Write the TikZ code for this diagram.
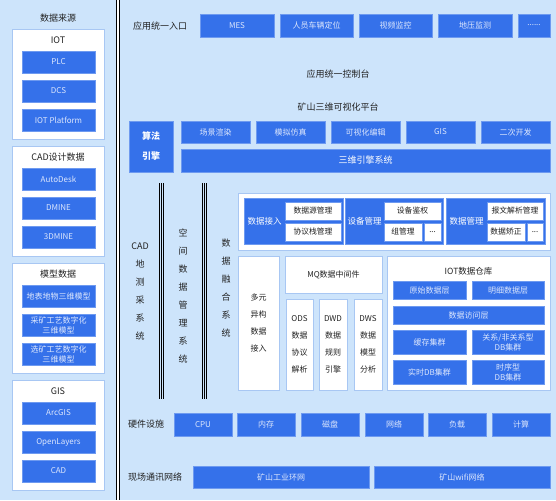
\documentclass[tikz,border=0pt]{standalone}
\usepackage{fontspec}
\setmainfont{Noto Sans CJK SC}
\usepackage{tikz}
\definecolor{bgblue}{HTML}{CDE4FB}
\definecolor{boxblue}{HTML}{3571EA}
\definecolor{boxedge}{HTML}{6E9AF0}
\definecolor{boxtext}{HTML}{DDE7FD}
\definecolor{paneledge}{HTML}{A8C7F3}
\definecolor{labeltext}{HTML}{222222}

% box from corner (x1,y1) to corner (x2,y2), in pixels
\newcommand\blk[7]{\node[#1, minimum width={((#5)-(#3))*1pt}, minimum height={((#6)-(#4))*1pt}] (#2) at ({((#3)+(#5))/2},{((#4)+(#6))/2}) {#7};}

\tikzset{
	bluebox/.style={fill=boxblue, draw=boxedge, line width=0.6pt, inner sep=0pt, outer sep=0pt,
		text=boxtext, align=center, font=\fontsize{8}{10}\selectfont},
	headbox/.style={bluebox, text=white, font=\fontsize{9}{20}\selectfont\bfseries},
	whitebox/.style={fill=white, draw=paneledge, line width=0.8pt, inner sep=0pt, outer sep=0pt,
		text=labeltext, align=center, font=\fontsize{8}{17}\selectfont},
	smallbox/.style={fill=white, draw=boxedge, line width=0.5pt, inner sep=0pt, outer sep=0pt,
		text=labeltext, font=\fontsize{7.8}{9}\selectfont},
	grouptext/.style={text=white, font=\fontsize{8.5}{10}\selectfont},
	label/.style={text=labeltext, font=\fontsize{9}{11}\selectfont},
	vlabel/.style={text=labeltext, align=center, font=\fontsize{9}{18}\selectfont},
	sepline/.style={draw=black, line width=0.8pt}
}

\begin{document}
\begin{tikzpicture}[x=1pt,y=-1pt]
	\fill[bgblue] (0,0) rectangle (556,500);
	\useasboundingbox (0,0) rectangle (556,500);

	% data sources
	\node[label] (src) at (58,18) {数据来源};
	\foreach \yy/\n/\ttl/\ia/\ib/\ic in {29/iot/IOT/PLC/DCS/IOT Platform,
		146/cad/CAD设计数据/AutoDesk/DMINE/3DMINE,
		263/model/模型数据/地表地物三维模型/{采矿工艺数字化\\三维模型}/{选矿工艺数字化\\三维模型},
		380/gis/GIS/ArcGIS/OpenLayers/CAD}{
		\blk{whitebox}{\n}{12}{\yy}{104}{\yy+110}{}
		\node[label] (\n-t) at (58,\yy+11) {\ttl};
		\blk{bluebox}{\n-1}{22}{\yy+22}{95}{\yy+44}{\ia}
		\blk{bluebox}{\n-2}{22}{\yy+51}{95}{\yy+73}{\ib}
		\blk{bluebox}{\n-3}{22}{\yy+80}{95}{\yy+102}{\ic}
	}

	% separators
	\fill[white] (116.5,0) rectangle (119,500);
	\draw[sepline] (116.5,0) -- (116.5,500);
	\draw[sepline] (119,0) -- (119,500);
	\foreach \x in {159.5,161.5,163.5,202.3,204.2,206}
		\draw[sepline] (\x,183) -- (\x,399);

	% application entry
	\node[label] (entry) at (160,26) {应用统一入口};
	\foreach \a/\b/\n/\t in {200/274/mes/MES, 280/353/locate/人员车辆定位, 359/432/video/视频监控,
		438/512/press/地压监测}{
		\blk{bluebox}{\n}{\a}{14}{\b}{37}{\t}
	}
	\blk{bluebox}{more}{518}{14}{550}{37}{......}

	\node[label] (console) at (338,74) {应用统一控制台};
	\node[label] (platform) at (338,107) {矿山三维可视化平台};

	% engine
	\blk{headbox}{algo}{129}{121}{173}{172}{算法\\引擎}
	\foreach \a/\b/\n/\t in {181/250/render/场景渲染, 256/325/sim/模拟仿真, 331/400/edit/可视化编辑,
		406/475/gisf/GIS, 481/550/dev/二次开发}{
		\blk{bluebox}{\n}{\a}{121}{\b}{143}{\t}
	}
	\blk{bluebox}{engine}{181}{149}{550}{172}{\fontsize{9}{11}\selectfont\color{white}三维引擎系统}

	% vertical systems
	\node[vlabel] (cadsys) at (140,291) {CAD\\地\\测\\采\\系\\统};
	\node[vlabel] (spsys) at (183,296.5) {空\\间\\数\\据\\管\\理\\系\\统};
	\node[vlabel] (fusys) at (226,288) {数\\据\\融\\合\\系\\统};

	% access layer
	\blk{whitebox}{access}{238}{193}{550}{250}{}
	\blk{bluebox}{grp1}{244}{198}{343}{244}{}
	\node[grouptext] (grp1-t) at (264.5,221) {数据接入};
	\blk{smallbox}{grp1-a}{285}{202}{341}{220}{数据源管理}
	\blk{smallbox}{grp1-b}{285}{223}{341}{241}{协议栈管理}
	\blk{bluebox}{grp2}{345}{198}{443}{244}{}
	\node[grouptext] (grp2-t) at (364.5,221) {设备管理};
	\blk{smallbox}{grp2-a}{384}{202}{441}{220}{设备鉴权}
	\blk{smallbox}{grp2-b}{384}{223}{422}{241}{组管理}
	\blk{smallbox}{grp2-c}{424}{223}{441}{241}{...}
	\blk{bluebox}{grp3}{446}{198}{545}{244}{}
	\node[grouptext] (grp3-t) at (466.5,221) {数据管理};
	\blk{smallbox}{grp3-a}{487}{202}{543}{220}{报文解析管理}
	\blk{smallbox}{grp3-b}{487}{223}{525}{241}{数据矫正}
	\blk{smallbox}{grp3-c}{527}{223}{543}{241}{...}

	% fusion layer
	\blk{whitebox}{multi}{238}{256}{279}{390}{多元\\异构\\数据\\接入}
	\blk{whitebox}{mq}{285}{256}{382}{293}{MQ数据中间件}
	\blk{whitebox}{ods}{286}{299}{313}{390}{ODS\\数据\\协议\\解析}
	\blk{whitebox}{dwd}{319}{299}{347}{390}{DWD\\数据\\规则\\引擎}
	\blk{whitebox}{dws}{354}{299}{382}{390}{DWS\\数据\\模型\\分析}

	% iot warehouse
	\blk{whitebox}{store}{387}{256}{550}{390}{}
	\node[label, font=\fontsize{8.5}{10}\selectfont] (store-t) at (468.5,271) {IOT数据仓库};
	\blk{bluebox}{raw}{393}{281}{466}{299}{原始数据层}
	\blk{bluebox}{detail}{472}{281}{544}{299}{明细数据层}
	\blk{bluebox}{visit}{393}{306}{544}{324}{数据访问层}
	\blk{bluebox}{cache}{393}{330}{466}{354}{缓存集群}
	\blk{bluebox}{rel}{472}{330}{544}{354}{关系/非关系型\\DB集群}
	\blk{bluebox}{rtdb}{393}{360}{466}{384}{实时DB集群}
	\blk{bluebox}{tsdb}{472}{360}{544}{384}{时序型\\DB集群}

	% hardware
	\node[label] (hw) at (146,424) {硬件设施};
	\foreach \a/\b/\n/\t in {174/232/cpu/CPU, 237/295/mem/内存, 301/359/disk/磁盘,
		365/423/net/网络, 428/486/load/负载, 492/550/calc/计算}{
		\blk{bluebox}{\n}{\a}{413}{\b}{436}{\t}
	}

	% field network
	\node[label] (field) at (155,477) {现场通讯网络};
	\blk{bluebox}{ring}{193}{466}{369}{488}{矿山工业环网}
	\blk{bluebox}{wifi}{374}{466}{550}{488}{矿山wifi网络}
\end{tikzpicture}
\end{document}
